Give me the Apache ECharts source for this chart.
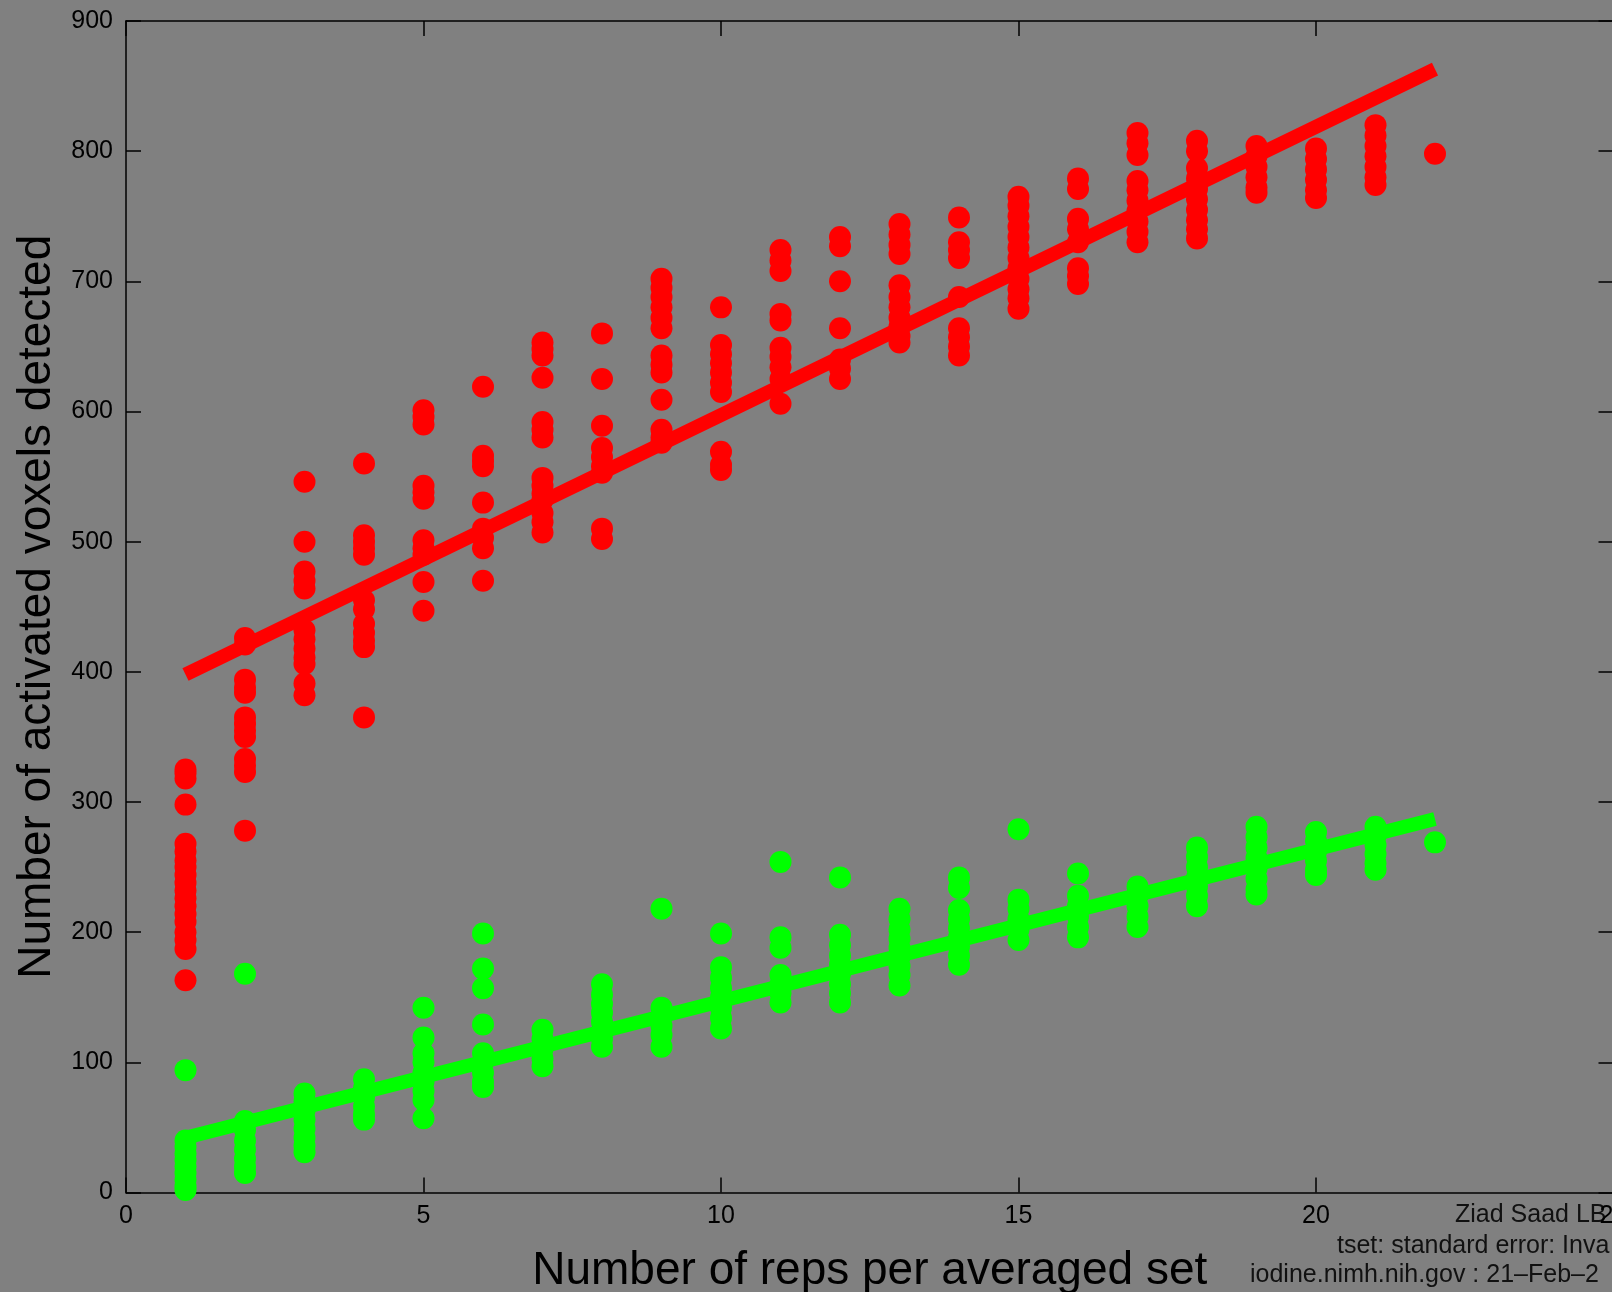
<!DOCTYPE html>
<html>
<head>
<meta charset="utf-8">
<script src="https://cdn.jsdelivr.net/npm/echarts@6/dist/echarts.min.js"></script>
<style>
html,body{margin:0;padding:0;background:#808080;}
#chart{width:1612px;height:1292px;}
</style>
</head>
<body>
<div id="chart"></div>
<script>
// x positions (number of reps per averaged set)
const reps = [1,2,3,4,5,6,7,8,9,10,11,12,13,14,15,16,17,18,19,20,21,22];
// red series: values per column (one sub-array per reps value)
const redValues = [
  [325,322,318,298,268,262,255,250,244,238,232,226,220,214,208,200,194,187,163],
  [426,421,394,388,384,365,360,355,350,333,328,323,278],
  [546,500,477,470,464,432,425,418,411,406,391,382],
  [560,505,500,495,490,455,448,437,430,424,419,365],
  [601,596,590,543,538,533,501,495,490,469,447],
  [619,566,562,558,530,510,503,495,470],
  [653,648,643,626,592,586,580,549,543,537,532,522,515,507],
  [660,625,589,572,565,558,553,510,502],
  [702,695,688,680,672,664,643,636,630,609,586,580,576],
  [680,651,644,637,630,622,615,569,559,555],
  [724,716,708,675,670,649,642,634,625,606],
  [734,727,700,664,640,633,625],
  [744,736,728,721,697,688,680,672,665,658,653],
  [749,730,724,718,688,664,657,650,643],
  [765,758,750,742,734,726,718,710,702,694,687,679],
  [779,771,748,740,730,710,704,698],
  [814,806,797,777,770,762,754,746,738,730],
  [808,800,787,779,771,763,755,747,740,733],
  [804,796,788,780,772,768],
  [802,794,786,778,770,764],
  [820,812,804,796,788,780,774],
  [798]
];
// green series: values per column
const greenValues = [
  [94,40,35,30,25,20,15,10,5,2],
  [168,55,48,40,33,26,20,15],
  [76,70,63,56,49,42,36,31],
  [87,80,73,66,60,56],
  [142,119,107,100,92,85,78,71,57],
  [199,172,157,129,107,100,92,85,81],
  [125,118,110,103,97],
  [160,152,145,138,131,124,118,112],
  [218,142,135,128,121,112],
  [199,173,165,157,150,142,134,126],
  [254,196,188,167,160,153,146],
  [242,198,190,182,175,168,160,153,146],
  [218,210,202,195,188,181,174,167,159],
  [242,234,217,210,203,196,189,182,175],
  [279,225,218,210,202,194],
  [245,228,220,212,204,196],
  [235,228,220,212,204],
  [265,258,250,242,235,228,220],
  [281,273,265,257,249,241,233,229],
  [277,270,262,255,248,244],
  [281,274,267,260,253,248],
  [269]
];
// fitted lines: end points
const redFitX = [1, 22];
const redFitY = [398, 863];
const greenFitX = [1, 22];
const greenFitY = [42, 287];
// axis ticks
const xTicks = {min: 0, max: 25, interval: 5};
const yTicks = {min: 0, max: 900, interval: 100};
const xTitle = 'Number of reps per averaged set';
const yTitle = 'Number of activated voxels detected';
const footerLines = ['Ziad Saad LB', 'tset: standard error: Inva', 'iodine.nimh.nih.gov : 21\u2013Feb\u20132'];

function toPairs(xs, cols){
  const out = [];
  cols.forEach((col, i) => col.forEach(v => out.push([xs[i], v])));
  return out;
}
const redPts = toPairs(reps, redValues);
const greenPts = toPairs(reps, greenValues);
const redFit = redFitX.map((x,i)=>[x, redFitY[i]]);
const greenFit = greenFitX.map((x,i)=>[x, greenFitY[i]]);

const FONT = '"Liberation Sans", Arial, sans-serif';
const chart = echarts.init(document.getElementById('chart'), null, {renderer:'canvas'});
const axisCommon = {
  axisLine:{show:true, onZero:false, lineStyle:{color:'#000', width:1.5}},
  axisTick:{show:true, inside:true, length:15, lineStyle:{color:'#000', width:1.5}},
  splitLine:{show:false}
};
const labelFont = {color:'#000', fontFamily:FONT, fontSize:25};
chart.setOption({
  backgroundColor:'#808080',
  animation:false,
  grid:{left:126, top:21, width:1487.5, height:1171.5, containLabel:false, outerBoundsMode:'none'},
  xAxis:[
    Object.assign({type:'value', position:'bottom', min:xTicks.min, max:xTicks.max, interval:xTicks.interval,
      axisLabel:Object.assign({margin:11, showMaxLabel:true, showMinLabel:true, hideOverlap:false}, labelFont),
      name:xTitle, nameLocation:'middle', nameGap:56,
      nameTextStyle:{color:'#000', fontFamily:FONT, fontSize:46, verticalAlign:'top'}
    }, axisCommon),
    Object.assign({type:'value', position:'top', min:xTicks.min, max:xTicks.max, interval:xTicks.interval,
      axisLabel:{show:false}}, axisCommon)
  ],
  yAxis:[
    Object.assign({type:'value', position:'left', min:yTicks.min, max:yTicks.max, interval:yTicks.interval,
      axisLabel:Object.assign({margin:13}, labelFont),
      name:yTitle, nameLocation:'middle', nameGap:62, nameRotate:90,
      nameTextStyle:{color:'#000', fontFamily:FONT, fontSize:46}
    }, axisCommon),
    Object.assign({type:'value', position:'right', min:yTicks.min, max:yTicks.max, interval:yTicks.interval,
      axisLabel:{show:false}}, axisCommon)
  ],
  graphic: footerLines.map((t,i)=>({
    type:'text', left: [1455,1337,1250][i], top:[1203,1234,1263][i],
    style:{text:t, fill:'#111', font:'25px ' + FONT}
  })),
  series:[
    {type:'scatter', data:redPts, symbol:'circle', symbolSize:22, itemStyle:{color:'#ff0000', opacity:1}, z:2},
    {type:'scatter', data:greenPts, symbol:'circle', symbolSize:22, itemStyle:{color:'#00ff00', opacity:1}, z:2},
    {type:'line', data:redFit, symbol:'none', lineStyle:{color:'#ff0000', width:14, cap:'butt'}, z:3},
    {type:'line', data:greenFit, symbol:'none', lineStyle:{color:'#00ff00', width:14, cap:'butt'}, z:3}
  ]
});
</script>
</body>
</html>
